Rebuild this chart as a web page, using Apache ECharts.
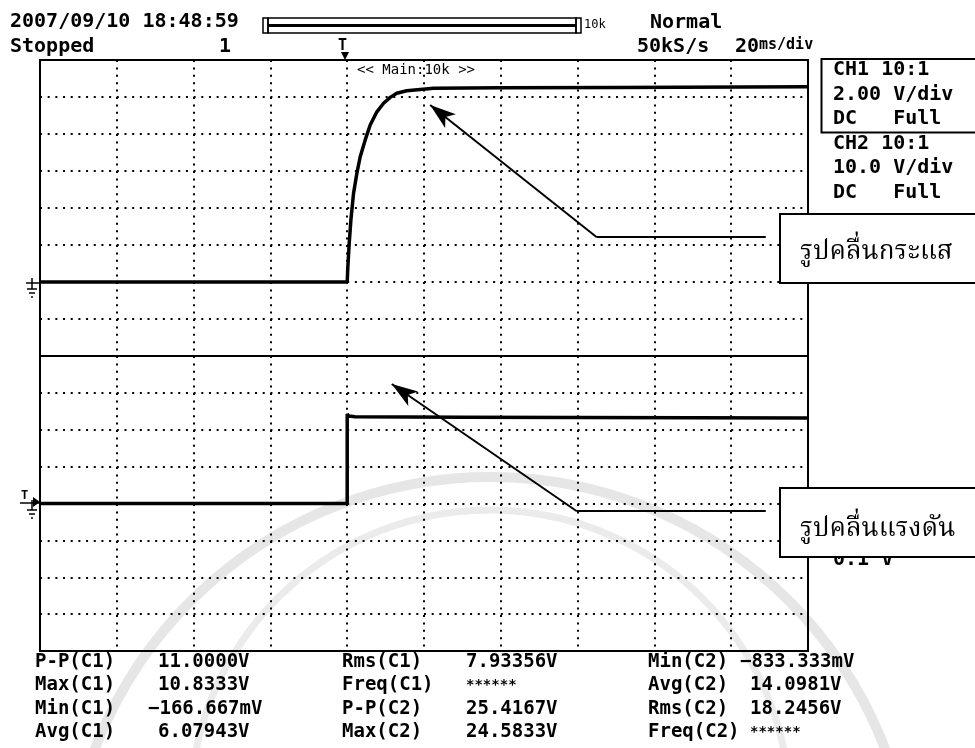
<!DOCTYPE html>
<html>
<head>
<meta charset="utf-8">
<script src="https://cdn.jsdelivr.net/npm/echarts@6/dist/echarts.min.js"></script>
<style>html,body{margin:0;background:#fff}#main{width:975px;height:748px}</style>
</head>
<body>
<div id="main"></div>
<script>
// CH1 (current probe, 2 V/div) - time in ms from trigger
const ch1Time = [-80, 0, 0.17, 0.52, 0.96, 1.65, 2.52, 3.39, 4.69, 5.99, 7.73, 9.47, 11.2, 12.9, 15.5, 19.0, 22.5, 40, 70, 120];
const ch1Volt = [0, 0, 0.83, 2.09, 3.35, 4.79, 5.88, 6.77, 7.68, 8.49, 9.2, 9.66, 9.98, 10.2, 10.34, 10.41, 10.47, 10.5, 10.52, 10.55];
// CH2 (voltage, 10 V/div)
const ch2Time = [-80, 0, 0, 0.4, 2, 30, 120];
const ch2Volt = [0, 0, 24.3, 23.7, 23.5, 23.4, 23.2];

const measLabels = [
  ['P-P(C1)', 'Max(C1)', 'Min(C1)', 'Avg(C1)'],
  ['Rms(C1)', 'Freq(C1)', 'P-P(C2)', 'Max(C2)'],
  ['Min(C2)', 'Avg(C2)', 'Rms(C2)', 'Freq(C2)']
];
const measValues = [
  ['11.0000V', '10.8333V', '\u2212166.667mV', '6.07943V'],
  ['7.93356V', '******', '25.4167V', '24.5833V'],
  ['\u2212833.333mV', '14.0981V', '18.2456V', '******']
];
const chInfo = ['CH1 10:1', '2.00 V/div', 'DC   Full', 'CH2 10:1', '10.0 V/div', 'DC   Full'];
const labelCurrent = 'รูปคลื่นกระแส';
const labelVoltage = 'รูปคลื่นแรงดัน';

const mono = '"DejaVu Sans Mono", "Liberation Mono", monospace';
const thai = '"Noto Serif Thai", "Noto Sans Thai", "Norasi", "Loma", "Garuda", "Tlwg Typo", serif';

const chart = echarts.init(document.getElementById('main'));

function txt(x, y, text, size, opts) {
  opts = opts || {};
  return {
    type: 'text', x: x, y: y, z: 20,
    style: {
      text: text, fill: '#000',
      font: (opts.bold === false ? '' : 'bold ') + size + 'px ' + (opts.family || mono),
      verticalAlign: 'middle'
    }
  };
}
function ln(x1, y1, x2, y2, w) {
  return { type: 'line', z: 20, shape: { x1: x1, y1: y1, x2: x2, y2: y2 }, style: { stroke: '#000', lineWidth: w || 2 } };
}

const graphics = [];
// faint watermark arcs
graphics.push({ type: 'arc', z: -10, shape: { cx: 490, cy: 900, r: 423, startAngle: Math.PI * 1.02, endAngle: Math.PI * 1.98 }, style: { stroke: '#e6e6e6', lineWidth: 10, fill: null } });
graphics.push({ type: 'arc', z: -10, shape: { cx: 490, cy: 810, r: 300, startAngle: Math.PI * 1.05, endAngle: Math.PI * 1.95 }, style: { stroke: '#ebebeb', lineWidth: 7, fill: null } });

// header
graphics.push(txt(10, 22, '2007/09/10 18:48:59', 20));
graphics.push(txt(10, 47, 'Stopped', 20));
graphics.push(txt(219, 47, '1', 20));
graphics.push(txt(650, 23, 'Normal', 20));
graphics.push(txt(637, 47, '50kS/s', 20));
graphics.push(txt(735, 47, '20', 20));
graphics.push(txt(759, 45, 'ms/div', 15));
graphics.push(txt(584, 25, '10k', 12, { bold: false }));
// memory bar
graphics.push({ type: 'rect', z: 20, shape: { x: 263, y: 18, width: 5, height: 15 }, style: { stroke: '#000', fill: null, lineWidth: 1.5 } });
graphics.push({ type: 'rect', z: 20, shape: { x: 268, y: 18, width: 308, height: 15 }, style: { stroke: '#000', fill: null, lineWidth: 1.5 } });
graphics.push({ type: 'rect', z: 20, shape: { x: 576, y: 18, width: 5, height: 15 }, style: { stroke: '#000', fill: null, lineWidth: 1.5 } });
graphics.push(ln(268, 25.5, 576, 25.5, 3));
// trigger marker
graphics.push(txt(338, 46, 'T', 15));
graphics.push({ type: 'polygon', z: 20, shape: { points: [[341, 52], [349, 52], [345, 60]] }, style: { fill: '#000' } });
graphics.push(txt(357, 70, '<< Main:10k >>', 14, { bold: false }));

// CH1 ground marker
graphics.push(ln(32, 278, 32, 289, 1.5));
graphics.push(ln(26, 283, 40, 283, 1.5));
graphics.push(ln(27, 289, 37, 289, 1.5));
graphics.push(ln(29, 293, 35, 293, 1.5));
graphics.push(ln(31, 297, 33, 297, 1.5));
// CH2 trigger + ground marker
graphics.push(txt(21, 496, 'T', 12));
graphics.push({ type: 'polygon', z: 20, shape: { points: [[33, 497], [40, 502], [33, 507]] }, style: { fill: '#000' } });
graphics.push(ln(20, 503, 40, 503, 1.5));
graphics.push(ln(32, 500, 32, 510, 1.5));
graphics.push(ln(27, 510, 37, 510, 1.5));
graphics.push(ln(29, 514, 35, 514, 1.5));
graphics.push(ln(31, 518, 33, 518, 1.5));

// channel info panel
graphics.push({ type: 'rect', z: 20, shape: { x: 821.5, y: 59, width: 160, height: 73.5 }, style: { stroke: '#000', fill: null, lineWidth: 2 } });
chInfo.forEach(function (s, i) { graphics.push(txt(833, 70 + i * 24.5, s, 20)); });
graphics.push(txt(833, 560, '0.1 V', 20));

// annotation boxes
graphics.push({ type: 'rect', z: 30, shape: { x: 780, y: 214, width: 200, height: 69 }, style: { stroke: '#000', fill: '#fff', lineWidth: 2 } });
graphics.push({ type: 'text', z: 31, x: 800, y: 255, style: { text: labelCurrent, fill: '#000', font: '26px ' + thai, verticalAlign: 'middle' } });
graphics.push({ type: 'rect', z: 30, shape: { x: 780, y: 488, width: 200, height: 69 }, style: { stroke: '#000', fill: '#fff', lineWidth: 2 } });
graphics.push({ type: 'text', z: 31, x: 800, y: 532, style: { text: labelVoltage, fill: '#000', font: '26px ' + thai, verticalAlign: 'middle' } });

// measurements
const colLabelX = [35, 342, 648];
const colValueX = [158, 466, 750];
measLabels.forEach(function (col, c) {
  col.forEach(function (lab, r) {
    const y = 662 + r * 23.5;
    graphics.push(txt(colLabelX[c], y, lab, 19));
    const v = measValues[c][r];
    const dx = v.charAt(0) === '\u2212' ? -10 : 0;
    graphics.push(txt(colValueX[c] + dx, y, v, v.charAt(0) === '*' ? 14 : 19));
  });
});

const splitH = { show: true, lineStyle: { color: '#000', width: 2, type: [2, 5.68] } };
const splitV = { show: true, lineStyle: { color: '#000', width: 2, type: [2, 5.4] } };
function xAx(g) {
  return { gridIndex: g, type: 'value', min: -80, max: 120, interval: 20,
    axisLine: { show: false }, axisTick: { show: false }, axisLabel: { show: false }, splitLine: splitV };
}
function yAx(g, min, max, step) {
  return { gridIndex: g, type: 'value', min: min, max: max, interval: step,
    axisLine: { show: false }, axisTick: { show: false }, axisLabel: { show: false }, splitLine: splitH };
}
const arrowLine = { color: '#000', width: 2, type: 'solid' };

chart.setOption({
  animation: false,
  backgroundColor: '#fff',
  grid: [
    { left: 40, top: 60, width: 768, height: 296, show: true, borderColor: '#000', borderWidth: 2 },
    { left: 40, top: 356, width: 768, height: 295, show: true, borderColor: '#000', borderWidth: 2 }
  ],
  xAxis: [xAx(0), xAx(1)],
  yAxis: [yAx(0, -4, 12, 2), yAx(1, -40, 40, 10)],
  series: [
    {
      name: 'CH1', type: 'line', xAxisIndex: 0, yAxisIndex: 0,
      data: ch1Time.map(function (t, i) { return [t, ch1Volt[i]]; }),
      showSymbol: false, lineStyle: { color: '#000', width: 3.5 },
      markLine: {
        silent: true, symbol: ['none', 'none'], label: { show: false }, lineStyle: arrowLine,
        data: [
          [{ coord: [109, 2.42] }, { coord: [65, 2.42] }],
          [{ coord: [65, 2.42], symbol: 'none' }, { coord: [21.6, 9.57], symbol: 'arrow', symbolSize: [13, 26] }]
        ]
      }
    },
    {
      name: 'CH2', type: 'line', xAxisIndex: 1, yAxisIndex: 1,
      data: ch2Time.map(function (t, i) { return [t, ch2Volt[i]]; }),
      showSymbol: false, lineStyle: { color: '#000', width: 3.5 },
      markLine: {
        silent: true, symbol: ['none', 'none'], label: { show: false }, lineStyle: arrowLine,
        data: [
          [{ coord: [109, -2.1] }, { coord: [59.8, -2.1] }],
          [{ coord: [59.8, -2.1], symbol: 'none' }, { coord: [11.6, 32.4], symbol: 'arrow', symbolSize: [13, 26] }]
        ]
      }
    }
  ],
  graphic: graphics
});
</script>
</body>
</html>
